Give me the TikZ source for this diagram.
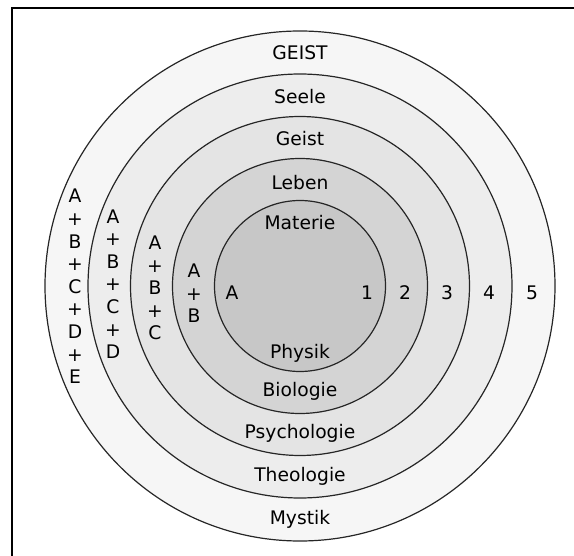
\documentclass[tikz,border=0pt]{standalone}
\usepackage{fontspec}
\setmainfont{DejaVu Sans}

\definecolor{ringA}{gray}{0.78}
\definecolor{ringB}{gray}{0.83}
\definecolor{ringC}{gray}{0.895}
\definecolor{ringD}{gray}{0.93}
\definecolor{ringE}{gray}{0.965}

\tikzset{
    ring/.style={draw=black!85, line width=1.2pt},
    word/.style={anchor=base, inner sep=0pt, font=\fontsize{18.7}{22.6}\selectfont},
    stack/.style={anchor=center, inner sep=0pt, align=center, font=\fontsize{18.7}{22.6}\selectfont},
}

\begin{document}
\begin{tikzpicture}[x=1pt, y=-1pt]
    \useasboundingbox (0,0) rectangle (574,556);

    % Draw the frame
    \draw[line width=2pt] (11.5,556) -- (11.5,8.5) -- (574,8.5);

    % Draw the rings, outermost first
    \filldraw[ring, fill=ringE] (300,286) circle (255pt);
    \filldraw[ring, fill=ringD] (300,286) circle (212pt);
    \filldraw[ring, fill=ringC] (300,286) circle (169.5pt);
    \filldraw[ring, fill=ringB] (300,286) circle (127.5pt);
    \filldraw[ring, fill=ringA] (300,286) circle (85.5pt);

    % Labels at the top of the rings
    \node[word] (geistTop) at (300,60) {GEIST};
    \node[word] (seele) at (300,104) {Seele};
    \node[word] (geist) at (300,146) {Geist};
    \node[word] (leben) at (300,190) {Leben};
    \node[word] (materie) at (300,230) {Materie};

    % Labels at the bottom of the rings
    \node[word] (physik) at (300,359) {Physik};
    \node[word] (biologie) at (300,397) {Biologie};
    \node[word] (psychologie) at (300,439) {Psychologie};
    \node[word] (theologie) at (300,482) {Theologie};
    \node[word] (mystik) at (300,525) {Mystik};

    % Letters on the left
    \node[word] (sumA) at (232,300) {A};
    \node[stack] (sumB) at (194,293.5) {A\\+\\B};
    \node[stack] (sumC) at (155,288) {A\\+\\B\\+\\C};
    \node[stack] (sumD) at (113,284) {A\\+\\B\\+\\C\\+\\D};
    \node[stack] (sumE) at (75,286.5) {A\\+\\B\\+\\C\\+\\D\\+\\E};

    % Numbers on the right
    \node[word] (one) at (367,300) {1};
    \node[word] (two) at (405,300) {2};
    \node[word] (three) at (447,300) {3};
    \node[word] (four) at (489,300) {4};
    \node[word] (five) at (532,300) {5};
\end{tikzpicture}
\end{document}
